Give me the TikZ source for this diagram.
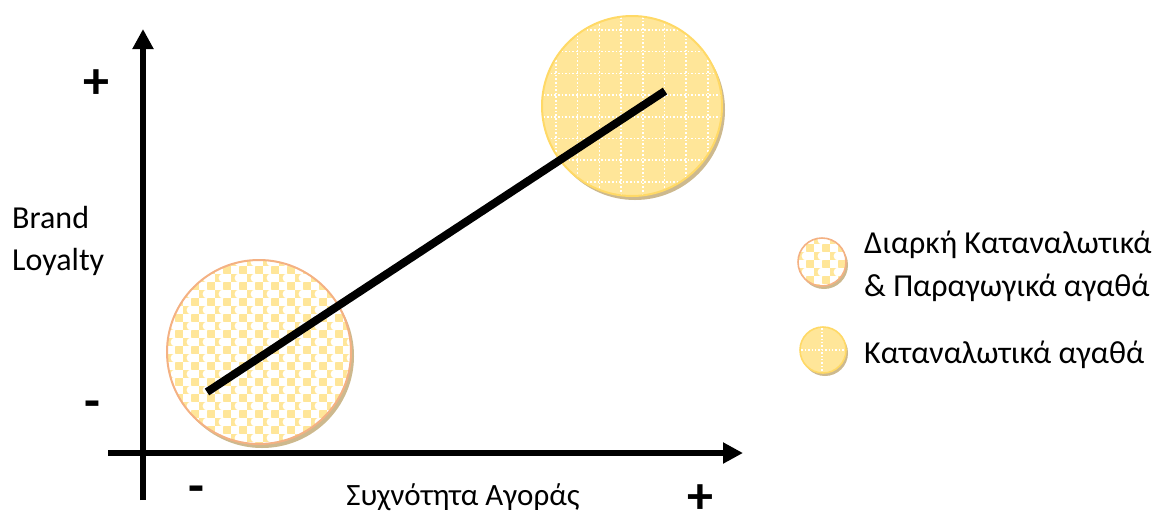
\documentclass[tikz,border=0pt]{standalone}
\usepackage{fontspec}
\setmainfont{Carlito}
\usetikzlibrary{arrows.meta}
\definecolor{ylw}{HTML}{FFE699}
\definecolor{ylwb}{HTML}{FFD966}
\definecolor{orb}{HTML}{F4B183}
\definecolor{shd}{HTML}{CDB98E}
\tikzset{
  axis/.style={line width=6pt,-{Triangle[length=20pt,width=20pt]}},
  trend/.style={line width=8pt},
  lbl/.style={font=\fontsize{32}{43}\selectfont, inner sep=0pt},
  sign/.style={font=\bfseries\fontsize{52}{52}\selectfont, inner sep=0pt},
}
\begin{document}
\begin{tikzpicture}[x=1pt,y=-1pt]
\useasboundingbox (0,0) rectangle (1155,515);

% ---------- big circle 1 (checker pattern) ----------
\fill[shd] (262,356) circle (92);
\begin{scope}
  \clip (259,352) circle (92);
  \fill[white] (259,352) circle (92);
  \foreach \i in {0,...,23}{
    \foreach \j in {0,...,12}{
      \pgfmathsetmacro\xx{167+8*\i}
      \pgfmathsetmacro\yy{258+16*\j+8*mod(\i,2)}
      \fill[ylw] (\xx,\yy) rectangle ++(8,8);
    }
  }
  \foreach \i in {0,...,11}{
    \foreach \j in {0,...,12}{
      \pgfmathsetmacro\xx{175+16*\i}
      \pgfmathsetmacro\yy{262+16*\j}
      \fill[white] (\xx,\yy) circle (4.4);
    }
  }
\end{scope}
\draw[orb, line width=2pt] (259,352) circle (92);

% ---------- big circle 2 (grid pattern) ----------
\fill[shd] (635,110) circle (90);
\fill[ylw] (632,106) circle (90);
\begin{scope}
  \clip (632,106) circle (90);
  \foreach \k in {-4,...,4}{
    \draw[white, line width=1.6pt, dotted] (632+21.7*\k-11,10) -- (632+21.7*\k-11,200);
    \draw[white, line width=1.6pt, dotted] (540,106+21.7*\k-11) -- (725,106+21.7*\k-11);
  }
\end{scope}
\draw[ylwb, line width=2pt] (632,106) circle (90);

% ---------- axes ----------
\coordinate (ybot) at (143,500);
\coordinate (ytop) at (143,29);
\coordinate (xleft) at (108,453);
\coordinate (xright) at (743,453);
\draw[axis] (ybot) -- (ytop);
\draw[axis] (xleft) -- (xright);

% ---------- trend line ----------
\coordinate (t1) at (207,392);
\coordinate (t2) at (665,91);
\draw[trend] (t1) -- (t2);

% ---------- signs ----------
\node[sign] (yplus) at (96,84) {+};
\node[sign] (yminus) at (92,410) {-};
\node[sign] (xminus) at (196,495) {-};
\node[sign] (xplus) at (700,499) {+};

% ---------- axis labels ----------
\node[lbl, font=\fontsize{32}{42}\selectfont, anchor=west, align=left] (ylab) at (12,241) {Brand\\Loyalty};
\node[lbl, font=\fontsize{31}{40}\selectfont] (xlab) at (463,497) {Συχνότητα Αγοράς};

% ---------- legend ----------
\fill[shd] (824,265) circle (24);
\begin{scope}
  \clip (822,262) circle (24);
  \fill[white] (822,262) circle (24);
  \foreach \i in {0,...,6}{
    \foreach \j in {0,...,3}{
      \pgfmathsetmacro\xx{798+8*\i}
      \pgfmathsetmacro\yy{236+16*\j+8*mod(\i,2)}
      \fill[ylw] (\xx,\yy) rectangle ++(8,8);
    }
  }
  \foreach \i in {0,...,3}{
    \foreach \j in {0,...,3}{
      \pgfmathsetmacro\xx{806+16*\i}
      \pgfmathsetmacro\yy{240+16*\j}
      \fill[white] (\xx,\yy) circle (4.4);
    }
  }
\end{scope}
\draw[orb, line width=1.6pt] (822,262) circle (24);

\fill[shd] (825,353) circle (23);
\fill[ylw] (823,350) circle (23);
\begin{scope}
  \clip (823,350) circle (23);
  \draw[white, line width=1.4pt, dotted] (822,325) -- (822,375);
  \draw[white, line width=1.4pt, dotted] (798,350) -- (848,350);
\end{scope}
\draw[ylwb, line width=1.6pt] (823,350) circle (23);

\node[lbl, anchor=west, align=left] (leg1) at (864,266) {Διαρκή Καταναλωτικά\\\& Παραγωγικά αγαθά};
\node[lbl, anchor=west] (leg2) at (864,355) {Καταναλωτικά αγαθά};
\end{tikzpicture}
\end{document}
